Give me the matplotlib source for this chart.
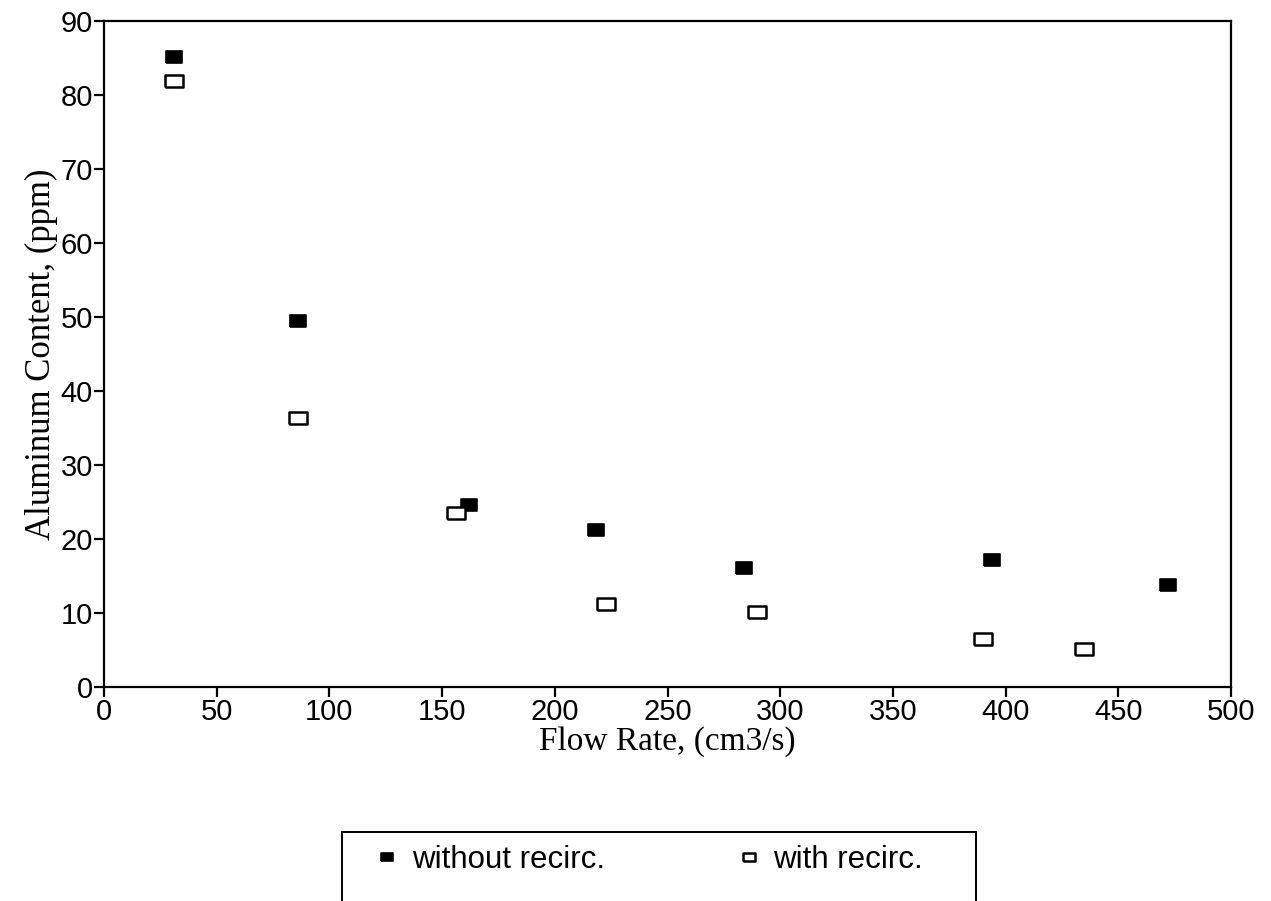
import matplotlib
matplotlib.use("Agg")
import matplotlib.pyplot as plt
from matplotlib.patches import Rectangle

# flow rate (cm3/s) and aluminum content (ppm)
flow_without = [31, 86, 162, 218.5, 284, 394, 472]
al_without = [85.2, 49.4, 24.6, 21.2, 16.1, 17.1, 13.8]
flow_with = [31, 86, 156.3, 222.5, 289.5, 390, 434.7]
al_with = [81.9, 36.4, 23.5, 11.2, 10.1, 6.5, 5.1]

xticks = [0, 50, 100, 150, 200, 250, 300, 350, 400, 450, 500]
yticks = [0, 10, 20, 30, 40, 50, 60, 70, 80, 90]

# flattened square marker, like the old plotter output
rect = [(-1, -0.7), (1, -0.7), (1, 0.7), (-1, 0.7), (-1, -0.7)]

W, H = 1271, 901
fig = plt.figure(figsize=(W / 100, H / 100), dpi=100)
ax = fig.add_axes([104 / W, 1 - 687 / H, (1231 - 104) / W, (687 - 21) / H])

ax.plot(flow_without, al_without, linestyle="none", marker=rect, markersize=11.5,
        markerfacecolor="black", markeredgecolor="black", markeredgewidth=1.2,
        label="without recirc.")
ax.plot(flow_with, al_with, linestyle="none", marker=rect, markersize=12.5,
        markerfacecolor="white", markeredgecolor="black", markeredgewidth=1.8,
        label="with recirc.")

ax.set_xlim(0, 500)
ax.set_ylim(0, 90)
ax.set_xticks(xticks)
ax.set_yticks(yticks)
for s in ax.spines.values():
    s.set_linewidth(1.6)
ax.tick_params(direction="out", length=7, width=1.6, pad=1, labelsize=21)
for lab in ax.get_xticklabels() + ax.get_yticklabels():
    lab.set_fontfamily("Liberation Sans")

ax.set_xlabel("Flow Rate, (cm3/s)", fontsize=24, fontfamily="Liberation Serif", labelpad=0)
ax.set_ylabel("Aluminum Content, (ppm)", fontsize=25, fontfamily="Liberation Serif", labelpad=2)

# legend below the plot, box runs off the bottom edge
leg = fig.legend(loc="center left", bbox_to_anchor=(371 / W, 1 - 860 / H), ncol=2,
                 frameon=False, prop={"family": "Liberation Sans", "size": 22.5},
                 handlelength=1.0, handletextpad=0.3, columnspacing=4.1,
                 borderpad=0, borderaxespad=0, markerscale=0.7)
fig.patches.append(Rectangle((342 / W, -0.02), (976 - 342) / W, 0.02 + (901 - 832) / H,
                             transform=fig.transFigure, fill=False,
                             edgecolor="black", linewidth=1.4))

fig.savefig("out.png", dpi=100)
